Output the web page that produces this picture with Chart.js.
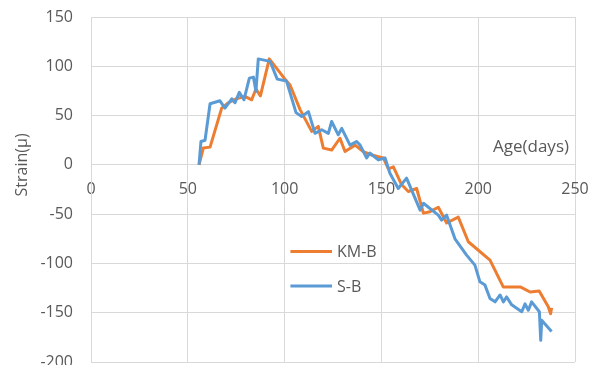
<!DOCTYPE html>
<html>
<head>
<meta charset="utf-8">
<script src="https://cdn.jsdelivr.net/npm/chart.js@4/dist/chart.umd.min.js"></script>
<style>
  html, body { margin: 0; padding: 0; background: #ffffff; }
  #wrap { width: 598px; height: 365px; }
</style>
</head>
<body>
<div id="wrap"><canvas id="c" width="598" height="365"></canvas></div>
<script>
// Strain history of two gauges against concrete age
const seriesNames = ['KM-B', 'S-B'];

const kmbAge = [55.8, 58, 61.5, 67.5, 71, 75, 79.5, 83, 85.2, 87.5, 92.1, 101, 102.8, 108, 114, 117.4, 120, 124.3, 128.6, 131.2, 136.4, 140.6, 145, 151, 153.6, 156.2, 160.4, 163.9, 168.2, 171.7, 175.1, 179.4, 183.7, 189.7, 194.9, 206.1, 213, 222, 226.8, 231.5, 236.2, 237.4, 237.9];
const kmbStrain = [0, 17, 18, 57.6, 63, 67, 69.5, 66, 77, 70, 107.5, 85, 81, 56, 34, 39, 17, 15, 27, 13.5, 20, 13.5, 10, 7, -4, -2, -20, -27, -24, -49, -47.5, -43, -59, -53, -78, -96.6, -124, -124, -129, -128, -144, -151, -145];

const sbAge = [55.8, 56.8, 58.9, 61.5, 66.6, 69.2, 72.7, 74.4, 76.6, 79, 81.8, 83.9, 85.2, 86.4, 92.5, 96.2, 101, 105.9, 108.8, 112.3, 115.7, 119.2, 122.6, 124.3, 127.7, 129.5, 133.8, 137.2, 139, 142.4, 144, 148.4, 151.9, 154.4, 158.7, 163, 170, 171.7, 179.4, 181.1, 183.7, 188, 194, 198.3, 200.9, 203.5, 206.1, 208.7, 211.3, 213, 214.7, 217.3, 222.5, 224.2, 225.9, 227.6, 231.6, 232.3, 232.8, 237.9];
const sbStrain = [0, 23.7, 25, 62, 65, 57.6, 67, 63, 73.5, 66, 88, 89, 74.6, 107.5, 105, 87, 85, 53, 49, 54, 32, 35.6, 32, 44, 30.5, 37, 20, 23.7, 20, 7, 12, 5, 7, -8.5, -24, -13.5, -46, -39, -51, -56, -51, -75, -91.6, -101.7, -118.7, -122, -135.6, -139, -132, -139, -134, -142, -149, -141, -147.5, -139, -149, -178, -157.7, -169];

const xTicks = [0, 50, 100, 150, 200, 250];
const yTicks = [150, 100, 50, 0, -50, -100, -150, -200];

const xTitle = 'Age(days)';
const yTitle = 'Strain(\u03bc)';

const ORANGE = '#ED7D31';
const BLUE = '#5B9BD5';
const GRID = '#D9D9D9';
const TEXT = '#595959';
const FONT = 'Open Sans';

function toPoints(xs, ys) {
  return xs.map((x, i) => ({ x: x, y: ys[i] }));
}

// Axis titles and in-plot legend
const annotations = {
  id: 'annotations',
  afterDraw(chart) {
    const ctx = chart.ctx;
    const area = chart.chartArea;
    const xs = chart.scales.x;
    const ys = chart.scales.y;
    ctx.save();
    ctx.fillStyle = TEXT;

    // y title, rotated, centred on the zero line
    ctx.font = '16px "' + FONT + '"';
    ctx.textAlign = 'center';
    ctx.textBaseline = 'middle';
    ctx.translate(22, ys.getPixelForValue(0));
    ctx.rotate(-Math.PI / 2);
    ctx.fillText(yTitle, 0, 0);
    ctx.restore();

    // x title sits above the axis line at the right end
    ctx.save();
    ctx.fillStyle = TEXT;
    ctx.font = '17px "' + FONT + '"';
    ctx.textAlign = 'right';
    ctx.textBaseline = 'alphabetic';
    ctx.fillText(xTitle, area.right - 6, ys.getPixelForValue(0) - 13);

    // legend
    const colors = [ORANGE, BLUE];
    const lx0 = xs.getPixelForValue(103);
    const lx1 = xs.getPixelForValue(124.5);
    const rows = [-88, -123];
    ctx.font = '16px "' + FONT + '"';
    ctx.textAlign = 'left';
    ctx.textBaseline = 'middle';
    seriesNames.forEach((name, i) => {
      const y = ys.getPixelForValue(rows[i]);
      ctx.strokeStyle = colors[i];
      ctx.lineWidth = 3;
      ctx.lineCap = 'butt';
      ctx.beginPath();
      ctx.moveTo(lx0, y);
      ctx.lineTo(lx1, y);
      ctx.stroke();
      ctx.fillStyle = TEXT;
      ctx.fillText(name, lx1 + 5, y + 1);
    });
    ctx.restore();
  }
};

new Chart(document.getElementById('c'), {
  type: 'scatter',
  data: {
    datasets: [
      {
        label: seriesNames[0],
        data: toPoints(kmbAge, kmbStrain),
        showLine: true,
        borderColor: ORANGE,
        backgroundColor: ORANGE,
        borderWidth: 3,
        pointRadius: 0,
        tension: 0,
        borderJoinStyle: 'round',
        order: 1
      },
      {
        label: seriesNames[1],
        data: toPoints(sbAge, sbStrain),
        showLine: true,
        borderColor: BLUE,
        backgroundColor: BLUE,
        borderWidth: 3,
        pointRadius: 0,
        tension: 0,
        borderJoinStyle: 'round',
        order: 0
      }
    ]
  },
  options: {
    responsive: false,
    animation: false,
    devicePixelRatio: 1,
    layout: { padding: { left: 0, right: 23, top: 17, bottom: 3 } },
    plugins: {
      legend: { display: false },
      tooltip: { enabled: false }
    },
    scales: {
      x: {
        type: 'linear',
        position: { y: 0 },
        min: xTicks[0],
        max: xTicks[xTicks.length - 1],
        afterBuildTicks(scale) { scale.ticks = xTicks.map(v => ({ value: v })); },
        afterFit(scale) {
          scale.paddingLeft = 0;
          scale.paddingRight = 0;
        },
        ticks: {
          color: TEXT,
          font: { family: FONT, size: 16 },
          padding: 15,
          maxRotation: 0
        },
        grid: { color: GRID, lineWidth: 1, drawTicks: false },
        border: { color: GRID, width: 1 }
      },
      y: {
        type: 'linear',
        min: yTicks[yTicks.length - 1],
        max: yTicks[0],
        afterBuildTicks(scale) { scale.ticks = yTicks.slice().reverse().map(v => ({ value: v })); },
        afterFit(scale) {
          scale.width = 91;
          scale.paddingTop = 0;
          scale.paddingBottom = 0;
        },
        ticks: {
          color: TEXT,
          font: { family: FONT, size: 16 },
          padding: 18
        },
        grid: { color: GRID, lineWidth: 1, drawTicks: false },
        border: { color: GRID, width: 1 }
      }
    }
  },
  plugins: [annotations]
});
</script>
</body>
</html>
